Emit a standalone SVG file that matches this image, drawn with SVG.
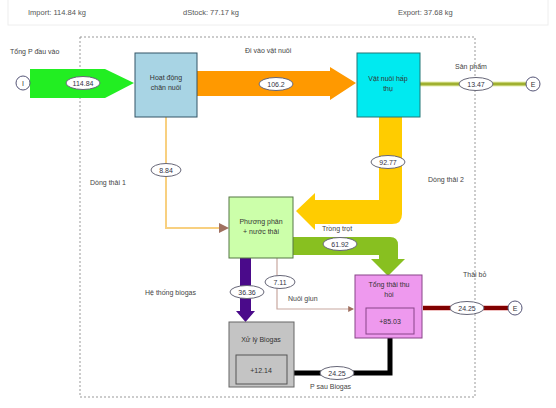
<svg xmlns="http://www.w3.org/2000/svg" width="556" height="408" viewBox="0 0 556 408">
<style>
text{font-family:"Liberation Sans",Arial,sans-serif;fill:#444;font-size:7px}
.hd{font-size:7.5px;fill:#555}
.nt{text-anchor:middle;fill:#333}
.lb{text-anchor:middle;fill:#334;font-size:7px}
.el{fill:#fff;stroke:#667;stroke-width:1}
.node{stroke-width:1}
.io{fill:#fff;stroke:#557;stroke-width:1}
</style>
<defs>
<marker id="ah" markerWidth="5" markerHeight="5" refX="4" refY="2.5" orient="auto"><path d="M0,0 L5,2.5 L0,5 Z" fill="#a07060"/></marker>
</defs>
<rect width="556" height="408" fill="#fff"/>
<rect x="8" y="-1" width="540" height="26" fill="none" stroke="#eee"/>
<text class="hd" x="28" y="15">Import: 114.84 kg</text>
<text class="hd" x="183" y="15">dStock: 77.17 kg</text>
<text class="hd" x="398" y="15">Export: 37.68 kg</text>
<rect x="80" y="37" width="395" height="360" fill="none" stroke="#999" stroke-dasharray="2,2"/>

<g id="connectors">
<polygon points="30,69 105,69 134,83 105,98 30,98" fill="#22ee22"/>
<polygon points="197,71 330,71 330,67 356,83 330,100 330,96 197,96" fill="#ff9900"/>
<path d="M379,117 L402,117 L402,214 Q402,224 392,224 L315,224 L315,230 L296,211 L315,193 L315,200 L379,200 Z" fill="#ffcc00"/>
<path d="M293,237 L390,237 Q398,237 398,245 L398,259 L405,259 L388,276 L371,259 L379,259 L379,255 L293,255 Z" fill="#88c020"/>
<polygon points="240,258 251,258 251,311 255,311 245.5,322 236,311 240,311" fill="#4a0a8a"/>
<path d="M166,117 L166,228 L227,228" fill="none" stroke="#f8d080" stroke-width="2" marker-end="url(#ah)"/>
<path d="M277,258 L277,309 L353,309" fill="none" stroke="#c8a8a0" stroke-width="1.2" marker-end="url(#ah)"/>
<path d="M420,84 L526,84" fill="none" stroke="#e8f0b0" stroke-width="5"/>
<path d="M420,84 L526,84" fill="none" stroke="#a0b030" stroke-width="3"/>
<path d="M423,308 L508,308" fill="none" stroke="#f0c0c0" stroke-width="6"/>
<path d="M423,308 L508,308" fill="none" stroke="#800000" stroke-width="4"/>
<path d="M294,373 L390,373 L390,338" fill="none" stroke="#000" stroke-width="5"/>
</g>

<g id="labels">
<ellipse class="el" cx="83" cy="83" rx="17" ry="6.5"/><text class="lb" x="83" y="85.5">114.84</text>
<ellipse class="el" cx="276" cy="84" rx="17" ry="6.5"/><text class="lb" x="276" y="86.5">106.2</text>
<ellipse class="el" cx="476" cy="84" rx="17" ry="6.5"/><text class="lb" x="476" y="86.5">13.47</text>
<ellipse class="el" cx="166" cy="170" rx="15" ry="6.5"/><text class="lb" x="166" y="172.5">8.84</text>
<ellipse class="el" cx="388" cy="162" rx="17" ry="6.5"/><text class="lb" x="388" y="164.5">92.77</text>
<ellipse class="el" cx="340" cy="244" rx="17" ry="6.5"/><text class="lb" x="340" y="246.5">61.92</text>
<ellipse class="el" cx="247" cy="292" rx="17" ry="6.5"/><text class="lb" x="247" y="294.5">36.36</text>
<ellipse class="el" cx="280" cy="282" rx="15" ry="6.5"/><text class="lb" x="280" y="284.5">7.11</text>
<ellipse class="el" cx="337" cy="373" rx="17" ry="6.5"/><text class="lb" x="337" y="375.5">24.25</text>
<ellipse class="el" cx="467" cy="308" rx="17" ry="6.5"/><text class="lb" x="467" y="310.5">24.25</text>
<text x="10" y="54">Tổng P đầu vào</text>
<text x="245" y="53">Đi vào vật nuôi</text>
<text x="455" y="69">Sản phẩm</text>
<text x="90" y="185">Dòng thải 1</text>
<text x="428" y="182">Dòng thải 2</text>
<text x="322" y="231">Trồng trọt</text>
<text x="145" y="295">Hệ thống biogas</text>
<text x="288" y="301">Nuôi giun</text>
<text x="310" y="389">P sau Biogas</text>
<text x="463" y="277">Thải bỏ</text>
</g>

<g id="in"><circle class="io" cx="23" cy="83" r="7"/><text class="nt" x="23" y="85.5">I</text></g>
<g id="out1"><circle class="io" cx="533" cy="84" r="7"/><text class="nt" x="533" y="86.5">E</text></g>
<g id="out2"><circle class="io" cx="515" cy="308" r="7"/><text class="nt" x="515" y="310.5">E</text></g>

<g id="hoat-dong"><rect class="node" x="135" y="53" width="62" height="64" fill="#a8d4e4" stroke="#335566"/>
<text class="nt" x="166" y="80">Hoạt động</text><text class="nt" x="166" y="90">chăn nuôi</text></g>
<g id="vat-nuoi"><rect class="node" x="357" y="53" width="63" height="64" fill="#00eaf0" stroke="#227777"/>
<text class="nt" x="388" y="81">Vật nuôi hấp</text><text class="nt" x="388" y="91">thụ</text></g>
<g id="phan"><rect class="node" x="229" y="197" width="64" height="61" fill="#ccffaa" stroke="#557744"/>
<text class="nt" x="261" y="224">Phương phân</text><text class="nt" x="261" y="234">+ nước thải</text></g>
<g id="tong-thai"><rect class="node" x="355" y="275" width="67" height="63" fill="#ee99ee" stroke="#884488"/>
<text class="nt" x="389" y="287">Tổng thải thu</text><text class="nt" x="389" y="297">hồi</text>
<rect x="366" y="308" width="48" height="26" fill="none" stroke="#884488"/>
<text class="nt" x="390" y="324">+85.03</text></g>
<g id="biogas"><rect class="node" x="229" y="322" width="65" height="65" fill="#c4c4c4" stroke="#666"/>
<text class="nt" x="261" y="342">Xử lý Biogas</text>
<rect x="236" y="355" width="51" height="29" fill="none" stroke="#555"/>
<text class="nt" x="261" y="373">+12.14</text></g>
</svg>
